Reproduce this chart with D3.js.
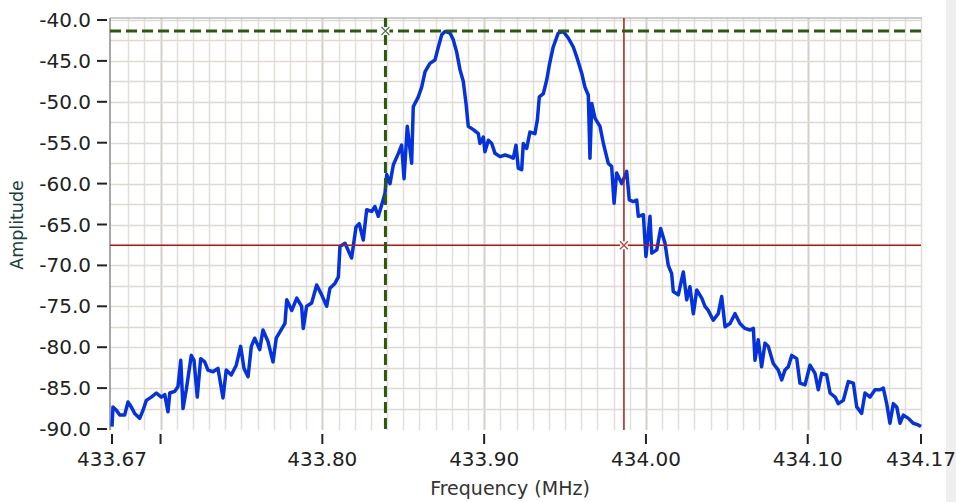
<!DOCTYPE html>
<html>
<head>
<meta charset="utf-8">
<script src="https://cdn.jsdelivr.net/npm/d3@7"></script>
<style>
  body { margin: 0; background: white; }
  svg { display: block; font-family: "DejaVu Sans", Verdana, sans-serif; }
</style>
</head>
<body>
<svg id="chart" width="956" height="502"></svg>
<script>
// spectrum trace
let freq = [
  433.6700, 433.6706, 433.6727, 433.6748, 433.6778, 433.6799, 433.6819, 433.6840, 433.6871, 433.6892,
  433.6912, 433.6943, 433.6974, 433.7005, 433.7026, 433.7046, 433.7057, 433.7088, 433.7108, 433.7125,
  433.7139, 433.7159, 433.7190, 433.7207, 433.7227, 433.7248, 433.7273, 433.7293, 433.7324, 433.7355,
  433.7386, 433.7406, 433.7437, 433.7468, 433.7495, 433.7516, 433.7541, 433.7561, 433.7582, 433.7613,
  433.7633, 433.7664, 433.7695, 433.7715, 433.7769, 433.7780, 433.7811, 433.7842, 433.7872, 433.7882,
  433.7903, 433.7934, 433.7965, 433.7996, 433.8027, 433.8047, 433.8078, 433.8099, 433.8109, 433.8140,
  433.8181, 433.8208, 433.8228, 433.8253, 433.8274, 433.8305, 433.8325, 433.8346, 433.8367, 433.8387,
  433.8398, 433.8418, 433.8439, 433.8470, 433.8490, 433.8505, 433.8525, 433.8552, 433.8562, 433.8593,
  433.8614, 433.8635, 433.8665, 433.8696, 433.8717, 433.8738, 433.8758, 433.8789, 433.8809, 433.8830,
  433.8851, 433.8871, 433.8888, 433.8902, 433.8933, 433.8964, 433.8974, 433.8995, 433.9005, 433.9026,
  433.9047, 433.9067, 433.9098, 433.9129, 433.9160, 433.9180, 433.9197, 433.9211, 433.9232, 433.9242,
  433.9263, 433.9283, 433.9314, 433.9329, 433.9341, 433.9366, 433.9387, 433.9403, 433.9427, 433.9458,
  433.9489, 433.9520, 433.9551, 433.9572, 433.9603, 433.9623, 433.9644, 433.9654, 433.9665, 433.9685,
  433.9716, 433.9737, 433.9767, 433.9788, 433.9803, 433.9819, 433.9850, 433.9881, 433.9897, 433.9922,
  433.9943, 433.9953, 433.9984, 434.0000, 434.0025, 434.0036, 434.0067, 434.0091, 434.0118, 434.0138,
  434.0159, 434.0169, 434.0200, 434.0231, 434.0252, 434.0272, 434.0293, 434.0314, 434.0345, 434.0365,
  434.0385, 434.0416, 434.0447, 434.0468, 434.0489, 434.0520, 434.0550, 434.0581, 434.0612, 434.0643,
  434.0664, 434.0674, 434.0694, 434.0715, 434.0736, 434.0756, 434.0787, 434.0818, 434.0839, 434.0859,
  434.0880, 434.0901, 434.0932, 434.0952, 434.0983, 434.1014, 434.1045, 434.1065, 434.1086, 434.1117,
  434.1138, 434.1169, 434.1189, 434.1220, 434.1251, 434.1282, 434.1303, 434.1333, 434.1354, 434.1385,
  434.1416, 434.1447, 434.1467, 434.1488, 434.1508, 434.1529, 434.1550, 434.1570, 434.1591, 434.1622,
  434.1652, 434.1683, 434.1700
]
let amplitude = [
  -89.7, -87.3, -87.7, -88.3, -88.3, -86.7, -87.3, -88.1, -88.7, -87.7,
  -86.5, -86.1, -85.6, -86.1, -85.8, -87.9, -85.6, -85.4, -84.8, -81.6,
  -87.5, -85.2, -81.0, -81.6, -86.1, -81.4, -81.8, -82.8, -83.0, -82.6,
  -86.2, -82.8, -83.4, -82.2, -79.9, -82.6, -83.6, -79.9, -78.9, -80.3,
  -77.9, -79.3, -81.8, -78.9, -77.1, -74.2, -75.5, -74.0, -75.0, -77.7,
  -75.0, -74.6, -72.4, -73.6, -75.0, -72.8, -72.2, -71.4, -67.7, -67.3,
  -69.1, -65.3, -64.9, -66.9, -63.2, -63.4, -62.8, -64.0, -62.6, -61.2,
  -58.9, -60.0, -57.7, -56.3, -55.3, -59.4, -53.0, -57.5, -50.6, -49.4,
  -48.2, -46.3, -45.3, -44.9, -43.3, -41.8, -41.4, -41.6, -42.4, -43.9,
  -46.1, -47.5, -50.2, -53.0, -53.4, -53.9, -55.1, -54.3, -56.1, -54.7,
  -55.1, -56.3, -56.7, -56.5, -56.7, -56.9, -55.3, -58.1, -58.3, -55.1,
  -55.7, -53.7, -53.9, -52.2, -49.4, -49.0, -47.3, -45.5, -43.3, -41.6,
  -41.4, -42.2, -43.3, -44.5, -46.5, -48.2, -49.2, -56.9, -50.2, -52.0,
  -53.0, -55.1, -57.5, -57.9, -62.4, -58.7, -60.0, -58.5, -62.0, -62.2,
  -62.0, -64.0, -63.8, -68.9, -64.0, -68.5, -68.1, -65.5, -67.3, -70.0,
  -71.0, -73.2, -73.6, -70.8, -74.2, -72.6, -75.9, -73.0, -74.0, -75.0,
  -75.5, -76.7, -75.9, -73.8, -77.5, -77.1, -75.9, -77.1, -77.7, -77.9,
  -77.7, -81.6, -79.1, -82.4, -79.5, -79.9, -82.0, -82.8, -84.0, -82.8,
  -82.4, -81.0, -81.4, -84.4, -84.6, -82.2, -83.2, -85.2, -83.2, -83.4,
  -85.6, -86.1, -86.9, -86.5, -84.2, -84.4, -87.3, -88.1, -85.6, -86.1,
  -85.2, -85.2, -85.0, -86.9, -89.3, -86.9, -87.3, -89.3, -88.3, -88.7,
  -89.3, -89.5, -89.7
]

let xTicks = [433.67, 433.70, 433.80, 433.90, 434.00, 434.10, 434.17]
let xTickLabels = ["433.67", "", "433.80", "433.90", "434.00", "434.10", "434.17"]
let yTicks = [-40, -45, -50, -55, -60, -65, -70, -75, -80, -85, -90]

// cursors [frequency, amplitude]
let cursor1 = [433.839, -41.35]
let cursor2 = [433.9864, -67.54]

let data = freq.map((f, i) => ({f: f, a: amplitude[i]}))

let svg = d3.select("#chart")

let pLeft = 110, pRight = 921, pTop = 18, pBottom = 430

let x = d3.scaleLinear().domain([433.67, 434.17]).range([112, 921])
let y = d3.scaleLinear().domain([-90, -40]).range([429, 20])

// window edge on the right
svg.append("rect")
  .attr("x", 946).attr("y", 0).attr("width", 10).attr("height", 502)
  .attr("fill", "#efefef")

let grid = svg.append("g")

// vertical grid every 0.01 MHz
for (let i = 1; i <= 50; i++) {
  let f = 433.67 + i * 0.01
  let major = (i + 7) % 10 == 0
  grid.append("line")
    .attr("x1", Math.round(x(f)) + 0.5).attr("x2", Math.round(x(f)) + 0.5)
    .attr("y1", pTop).attr("y2", pBottom)
    .attr("stroke", major ? "#d4d0c8" : "#e2dfd8")
    .attr("stroke-width", major ? 2 : 1.5)
}
// horizontal grid every 2.5 dB
for (let i = 1; i <= 20; i++) {
  let a = -90 + i * 2.5
  grid.append("line")
    .attr("x1", pLeft).attr("x2", pRight)
    .attr("y1", Math.round(y(a)) + 0.5).attr("y2", Math.round(y(a)) + 0.5)
    .attr("stroke", "#dedad2")
    .attr("stroke-width", 1.5)
}

// frame: top and left
svg.append("line")
  .attr("x1", pLeft).attr("x2", pRight + 1).attr("y1", pTop).attr("y2", pTop)
  .attr("stroke", "#9a9a9a").attr("stroke-width", 1.2)
svg.append("line")
  .attr("x1", pLeft).attr("x2", pLeft).attr("y1", pTop).attr("y2", pBottom)
  .attr("stroke", "#8a8a8a").attr("stroke-width", 1.5)

// y axis ticks and labels
let yAxis = svg.append("g")
yAxis.selectAll(".ytick").data(yTicks).enter()
  .append("line")
  .attr("x1", 97).attr("x2", 107)
  .attr("y1", d => y(d)).attr("y2", d => y(d))
  .attr("stroke", "#222").attr("stroke-width", 2)
yAxis.selectAll(".ylabel").data(yTicks).enter()
  .append("text")
  .attr("x", 91)
  .attr("y", d => y(d) + 7)
  .attr("text-anchor", "end")
  .attr("font-size", 20)
  .attr("fill", "#222")
  .text(d => d.toFixed(1))

// x axis ticks and labels
let xAxis = svg.append("g")
xAxis.selectAll(".xtick").data(xTicks).enter()
  .append("line")
  .attr("x1", d => x(d)).attr("x2", d => x(d))
  .attr("y1", 434).attr("y2", 444)
  .attr("stroke", "#222").attr("stroke-width", 2)
xAxis.selectAll(".xlabel").data(xTicks).enter()
  .append("text")
  .attr("x", d => x(d))
  .attr("y", 466)
  .attr("text-anchor", "middle")
  .attr("font-size", 20)
  .attr("fill", "#222")
  .text((d, i) => xTickLabels[i])

// axis titles
svg.append("text")
  .attr("x", 510).attr("y", 495)
  .attr("text-anchor", "middle")
  .attr("font-size", 19)
  .attr("fill", "#333")
  .text("Frequency (MHz)")
svg.append("text")
  .attr("transform", "translate(23,225) rotate(-90)")
  .attr("text-anchor", "middle")
  .attr("font-size", 17.5)
  .attr("fill", "#173f3d")
  .text("Amplitude")

// trace
let line = d3.line()
  .x(d => x(d.f))
  .y(d => y(d.a))

svg.append("path")
  .datum(data)
  .attr("d", line)
  .attr("fill", "none")
  .attr("stroke", "#0433dd")
  .attr("stroke-width", 3.5)
  .attr("stroke-linejoin", "round")

// cursor 2 (red, solid)
let c2 = svg.append("g")
c2.append("line")
  .attr("x1", pLeft).attr("x2", pRight).attr("y1", y(cursor2[1])).attr("y2", y(cursor2[1]))
  .attr("stroke", "#b01818").attr("stroke-width", 1.5)
c2.append("line")
  .attr("x1", x(cursor2[0])).attr("x2", x(cursor2[0])).attr("y1", pTop).attr("y2", pBottom)
  .attr("stroke", "#b01818").attr("stroke-width", 1.5)

// cursor 1 (green, dashed)
let c1 = svg.append("g")
c1.append("line")
  .attr("x1", pLeft).attr("x2", pRight).attr("y1", y(cursor1[1])).attr("y2", y(cursor1[1]))
  .attr("stroke", "#2b5a0c").attr("stroke-width", 3)
  .attr("stroke-dasharray", "11,5")
c1.append("line")
  .attr("x1", x(cursor1[0])).attr("x2", x(cursor1[0])).attr("y1", pTop).attr("y2", pBottom)
  .attr("stroke", "#2b5a0c").attr("stroke-width", 3)
  .attr("stroke-dasharray", "11,5")

// cursor markers
function marker(cx, cy, color) {
  let g = svg.append("g").attr("transform", `translate(${cx},${cy})`)
  g.append("rect").attr("x", -4).attr("y", -4).attr("width", 8).attr("height", 8).attr("fill", "white")
  g.append("path").attr("d", "M-4,-4L4,4M-4,4L4,-4")
    .attr("stroke", color).attr("stroke-width", 1.3)
}
marker(x(cursor1[0]), y(cursor1[1]), "#5a7a4a")
marker(x(cursor2[0]), y(cursor2[1]), "#c04040")
</script>
</body>
</html>
